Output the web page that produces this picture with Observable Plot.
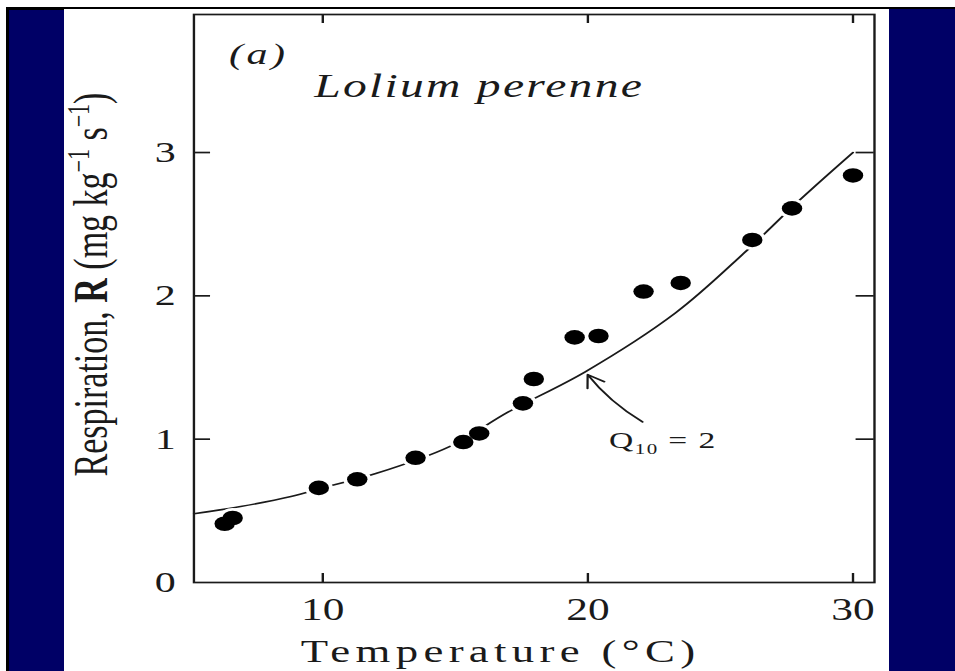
<!DOCTYPE html>
<html>
<head>
<meta charset="utf-8">
<script src="https://cdn.jsdelivr.net/npm/d3@7"></script>
<script src="https://cdn.jsdelivr.net/npm/@observablehq/plot@0.6"></script>
<style>
  html, body { margin: 0; padding: 0; background: #fff; }
  #page { position: relative; width: 955px; height: 671px; overflow: hidden; background: #fff; }
  .band { position: absolute; }
  #chart { position: absolute; left: 0; top: 0; }
</style>
</head>
<body>
<div id="page">
  <div class="band" style="left:6px;top:7px;width:949px;height:664px;background:#000;"></div>
  <div class="band" style="left:9px;top:10px;width:55px;height:661px;background:#000066;"></div>
  <div class="band" style="left:64px;top:9px;width:825px;height:662px;background:#fff;"></div>
  <div class="band" style="left:889px;top:9px;width:66px;height:662px;background:#000066;"></div>
  <div id="chart"></div>
</div>
<script>
// Measured respiration of Lolium perenne leaves vs. temperature
const temperature = [6.3, 6.6, 9.85, 11.3, 13.5, 15.3, 15.9, 17.55, 17.96, 19.5, 20.4, 22.1, 23.5, 26.2, 27.7, 30.0];
const respiration = [0.41, 0.45, 0.66, 0.72, 0.87, 0.98, 1.04, 1.25, 1.42, 1.71, 1.72, 2.03, 2.09, 2.39, 2.61, 2.84];

// Q10 = 2 reference curve, sampled along the drawn line
const curveTemperature = [5.14, 6.9, 8.8, 10, 12, 14.8, 17, 19.9, 23.3, 25.9, 28.0, 30.0];
const curveRespiration = [0.48, 0.53, 0.60, 0.66, 0.76, 0.95, 1.19, 1.47, 1.88, 2.30, 2.67, 3.0];

// Axis ticks
const xTicks = [10, 20, 30];
const yTicks = [0, 1, 2, 3];
const yInnerTicks = [1, 2, 3];

// Q10 annotation (data units): label anchor and arrow from label to curve
const q10Label = [{t: 20.8, r: 0.99, text: "Q10 = 2"}];
const q10Arrow = [{t1: 22.06, r1: 1.12, t2: 19.99, r2: 1.45}];

const points = temperature.map((t, i) => ({t, r: respiration[i]}));
const curve = curveTemperature.map((t, i) => ({t, r: curveRespiration[i]}));

// The figure is drawn at a narrower width and stretched horizontally
const W = 682, H = 671;
const mL = 138, mR = 58, mT = 14, mB = 89;
const innerW = W - mL - mR, innerH = H - mT - mB;
const ink = "#1a1a1a";

const chart = Plot.plot({
  width: W,
  height: H,
  marginLeft: mL,
  marginRight: mR,
  marginTop: mT,
  marginBottom: mB,
  x: {domain: [5.14, 30.81]},
  y: {domain: [0, 3.963]},
  style: {fontFamily: "'Liberation Serif', 'Times New Roman', serif", background: "transparent", overflow: "visible", color: ink, maxWidth: "none"},
  marks: [
    Plot.frame({stroke: ink, strokeWidth: 1.7}),
    // inward ticks on all four sides
    Plot.tickY(yInnerTicks, {y: d => d, insetRight: innerW - 12, stroke: ink, strokeWidth: 1.7}),
    Plot.tickY(yInnerTicks, {y: d => d, insetLeft: innerW - 13, stroke: ink, strokeWidth: 1.7}),
    Plot.tickX(xTicks, {x: d => d, insetTop: innerH - 9, stroke: ink, strokeWidth: 1.7}),
    Plot.tickX(xTicks, {x: d => d, insetBottom: innerH - 9, stroke: ink, strokeWidth: 1.7}),
    Plot.axisX(xTicks, {tickSize: 0, tickPadding: 15, fontSize: 31, tickFormat: d => String(d), label: null}),
    Plot.axisY(yTicks, {tickSize: 0, tickPadding: 13, fontSize: 30, tickFormat: d => String(d), label: null}),
    // model curve
    Plot.line(curve, {x: "t", y: "r", curve: "catmull-rom", stroke: ink, strokeWidth: 1.6}),
    // observations, with a white halo that breaks the curve around each dot
    Plot.dot(points, {x: "t", y: "r", r: 10, fill: "white"}),
    Plot.dot(points, {x: "t", y: "r", r: 7.3, fill: "#000"}),
    // annotation
    Plot.arrow(q10Arrow, {x1: "t1", y1: "r1", x2: "t2", y2: "r2", bend: 10, headLength: 13, stroke: ink, strokeWidth: 1.6}),
    Plot.text(q10Label, {x: "t", y: "r", text: "text", textAnchor: "start", lineAnchor: "middle", fontSize: 24}),
    // panel labels
    Plot.text(["(a)"], {frameAnchor: "top-left", dx: 25, dy: 40, textAnchor: "start", lineAnchor: "middle", fontSize: 30, fontStyle: "italic"}),
    Plot.text(["Lolium perenne"], {frameAnchor: "top-left", dx: 86, dy: 72, textAnchor: "start", lineAnchor: "middle", fontSize: 34, fontStyle: "italic"}),
    // axis titles
    Plot.text(["Temperature (°C)"], {frameAnchor: "bottom", dx: -24, dy: 69, textAnchor: "middle", lineAnchor: "middle", fontSize: 32}),
    Plot.text(["Respiration, R (mg kg-1 s-1)"], {frameAnchor: "left", dx: -73, dy: -14, rotate: -90, textAnchor: "middle", lineAnchor: "middle", fontSize: 34})
  ]
});

const svg = d3.select(chart);
svg.style("position", "absolute").style("left", "0px").style("top", "0px")
   .style("transform", `scaleX(${955 / W})`).style("transform-origin", "0 0");

// find a text element by its content
const textOf = s => svg.selectAll("text").filter(function() { return this.textContent === s; });

// rich text: bold symbol and superscripts / subscripts
textOf("Respiration, R (mg kg-1 s-1)").html(
  'Respiration, <tspan font-weight="bold">R</tspan> (mg kg<tspan dy="-13" font-size="22">−1</tspan><tspan dy="13"> s</tspan><tspan dy="-13" font-size="22">−1</tspan><tspan dy="13">)</tspan>'
);
textOf("Q10 = 2").attr("letter-spacing", 1).html(
  'Q<tspan dy="6" font-size="15">10</tspan><tspan dy="-6"> = 2</tspan>'
);
textOf("Temperature (°C)").attr("letter-spacing", 3.8);
textOf("Lolium perenne").attr("letter-spacing", 1.6);
textOf("(a)").attr("letter-spacing", 2.5);

document.getElementById("chart").appendChild(chart);
</script>
</body>
</html>
